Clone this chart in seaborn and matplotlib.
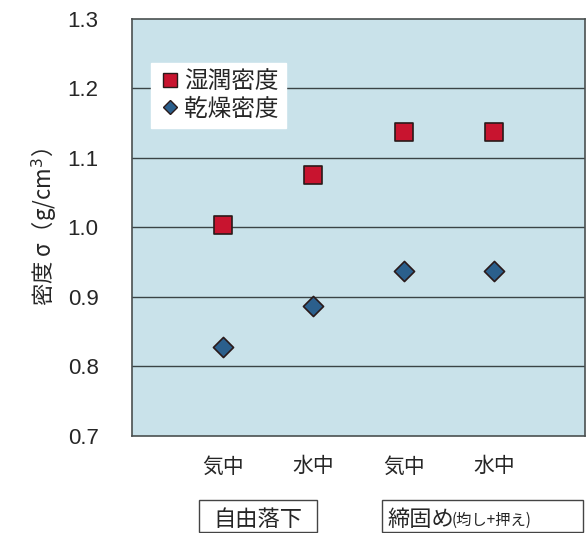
import matplotlib
matplotlib.use("Agg")
import matplotlib.pyplot as plt
from matplotlib.patches import Rectangle
from matplotlib.lines import Line2D
import seaborn as sns
import pandas as pd

categories = ["気中", "水中", "気中", "水中"]
wet_density = [1.003, 1.076, 1.138, 1.138]
dry_density = [0.828, 0.887, 0.938, 0.938]
series_names = ["湿潤密度", "乾燥密度"]
groups = ["自由落下", "締固め", "(均し+押え)"]
yticks = [0.7, 0.8, 0.9, 1.0, 1.1, 1.2, 1.3]

sns.set_theme(style="white")
plt.rcParams['font.family'] = ['Noto Sans CJK JP', 'DejaVu Sans']

pos = list(range(len(categories)))
wet_df = pd.DataFrame({"x": pos, "y": wet_density})
dry_df = pd.DataFrame({"x": pos, "y": dry_density})

RED = "#c8142f"
BLUE = "#2b5f8c"
EDGE = "#2a1a1a"

fig = plt.figure(figsize=(5.86, 5.33), dpi=100)
ax = fig.add_axes([0.2253, 0.182, 0.7727, 0.7824])
ax.set_facecolor("#c9e2ea")

sns.scatterplot(data=wet_df, x="x", y="y", marker="s", color=RED, s=150,
                edgecolor=EDGE, linewidth=1.2, ax=ax, zorder=3)
sns.scatterplot(data=dry_df, x="x", y="y", marker="D", color=BLUE, s=105,
                edgecolor=EDGE, linewidth=1.2, ax=ax, zorder=3)

ax.set_xlim(-1, 4)
ax.set_ylim(0.7, 1.3)
ax.set_yticks(yticks)
ax.set_yticklabels([f"{v:.1f}" for v in yticks], fontsize=16,
                   family=['Liberation Sans Narrow', 'Liberation Sans', 'DejaVu Sans'])
ax.tick_params(axis='y', length=0, pad=24)
ax.set_xticks(pos)
ax.set_xticklabels(categories, fontsize=15)
ax.tick_params(axis='x', length=0, pad=14)
for v in yticks[1:-1]:
    ax.axhline(v, color="#3a4446", lw=1.0, zorder=1)
for sp in ax.spines.values():
    sp.set_color("#4a5050")
    sp.set_linewidth(1.2)
ax.set_xlabel("")
ax.set_ylabel("密度 σ（g/cm$^3$）", fontsize=16, labelpad=6)

handles = [
    Line2D([], [], marker="s", ls="", color=RED, markeredgecolor=EDGE, markersize=10),
    Line2D([], [], marker="D", ls="", color=BLUE, markeredgecolor=EDGE, markersize=7),
]
leg = ax.legend(handles, series_names, loc="upper left", bbox_to_anchor=(0.042, 0.895),
                fontsize=17, frameon=True, handletextpad=0.1, handlelength=1.0,
                borderpad=0.3, labelspacing=0.2, borderaxespad=0)
leg.get_frame().set_facecolor("white")
leg.get_frame().set_edgecolor("white")
leg.get_frame().set_alpha(1)
leg.get_frame().set_boxstyle("square", pad=0)

# group labels with boxes
H = 533.0
W = 586.0
fig.patches.append(Rectangle((199 / W, 1 - 532 / H), (317 - 199) / W, 32 / H,
                             transform=fig.transFigure, fill=False, ec="#444444", lw=1.0))
fig.text(258 / W, 1 - 519 / H, groups[0], fontsize=16, ha="center", va="center")
fig.patches.append(Rectangle((382 / W, 1 - 532 / H), (583 - 382) / W, 32 / H,
                             transform=fig.transFigure, fill=False, ec="#444444", lw=1.0))
fig.text(387 / W, 1 - 519 / H, groups[1], fontsize=16, ha="left", va="center")
fig.text(452 / W, 1 - 520 / H, groups[2], fontsize=11, ha="left", va="center")

fig.savefig("out.png", dpi=100)
